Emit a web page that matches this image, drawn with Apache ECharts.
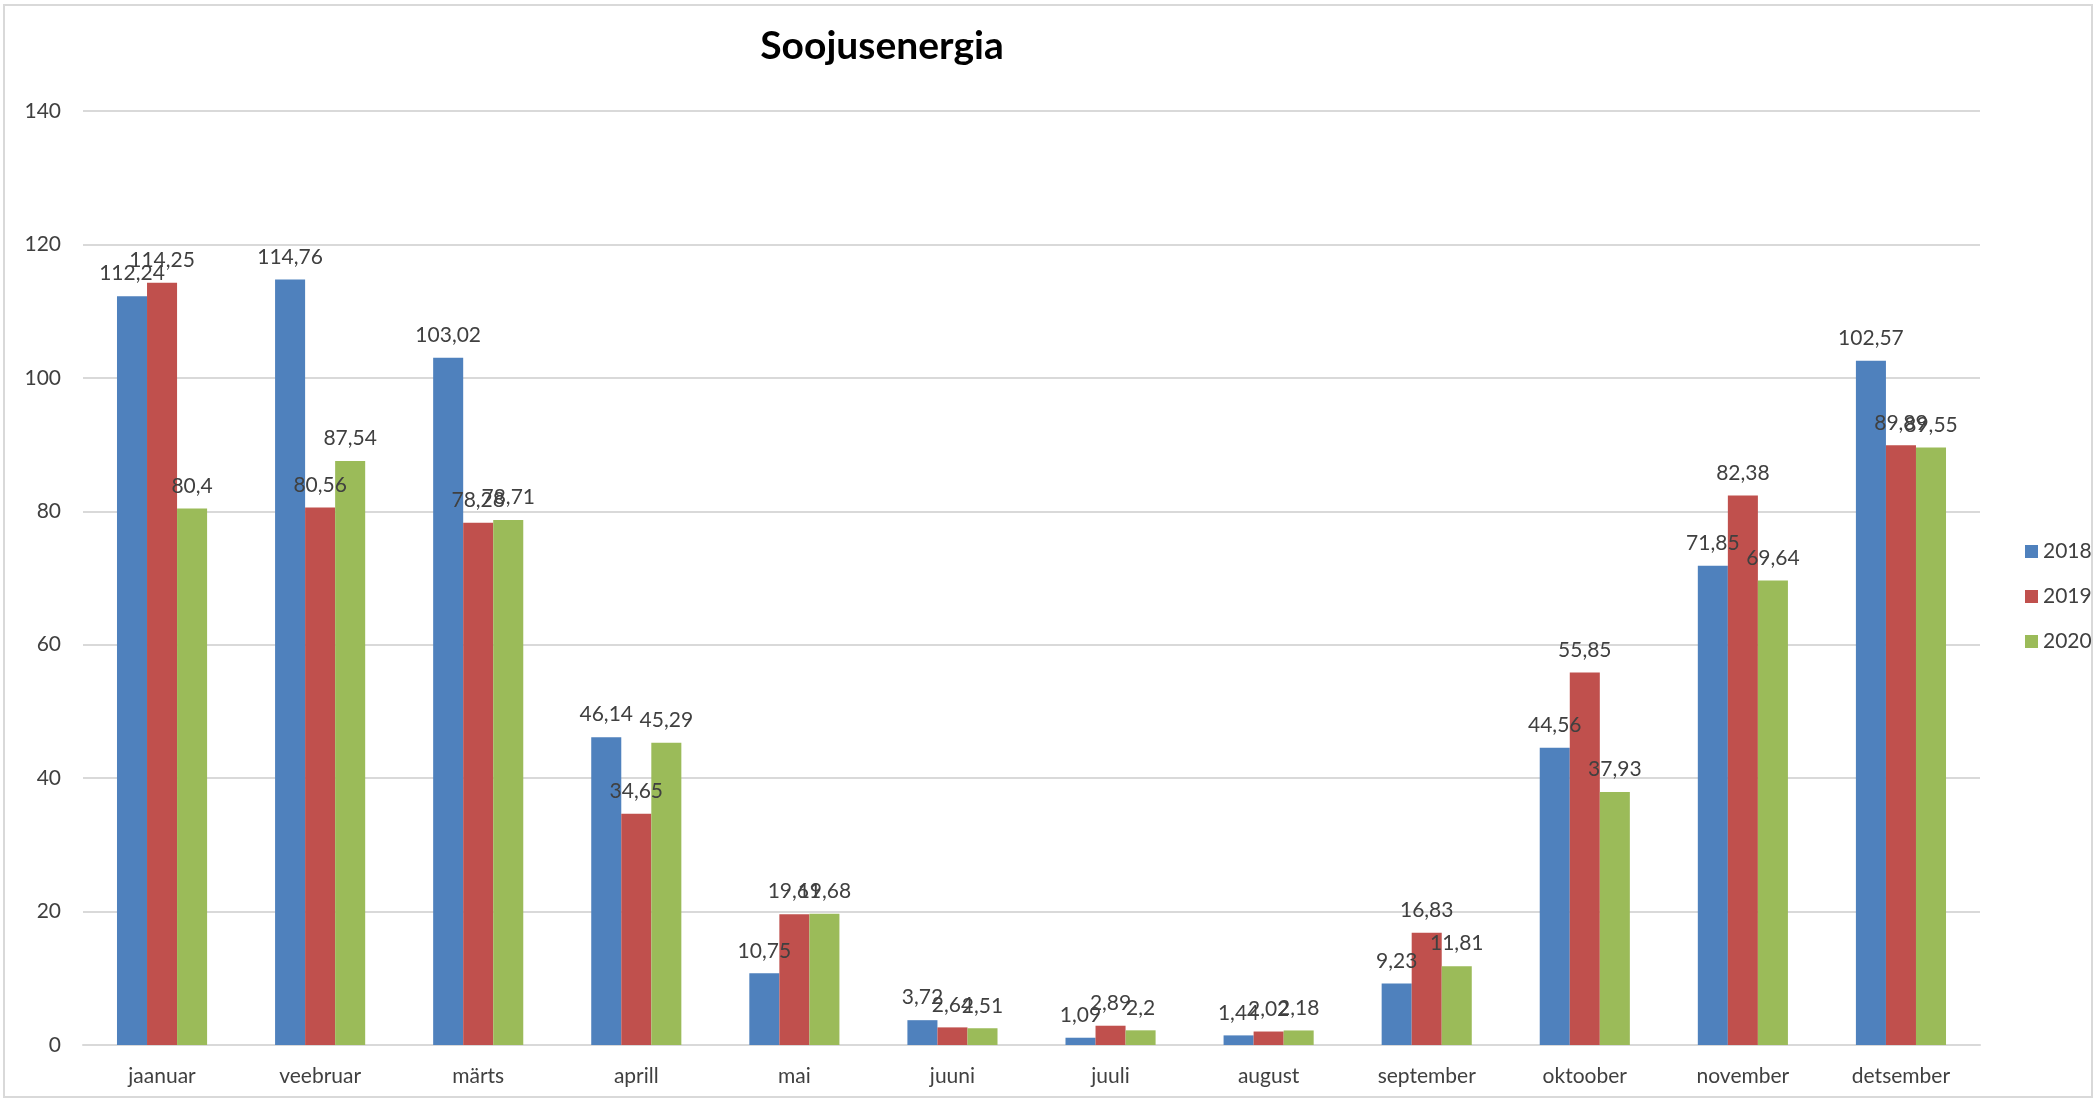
<!DOCTYPE html>
<html>
<head>
<meta charset="utf-8">
<script src="https://cdn.jsdelivr.net/npm/echarts@6/dist/echarts.min.js"></script>
<style>
html,body{margin:0;padding:0;background:#fff;}
#wrap{position:absolute;left:3px;top:4px;width:2090px;height:1094px;border:2px solid #d9d9d9;box-sizing:border-box;}
#chart{position:absolute;left:0;top:0;width:2096px;height:1101px;}
</style>
</head>
<body>
<div id="wrap"></div>
<div id="chart"></div>
<script>
const categories = ["jaanuar","veebruar","märts","aprill","mai","juuni","juuli","august","september","oktoober","november","detsember"];
const seriesNames = ["2018","2019","2020"];
const values2018 = [112.24,114.76,103.02,46.14,10.75,3.72,1.09,1.44,9.23,44.56,71.85,102.57];
const values2019 = [114.25,80.56,78.28,34.65,19.61,2.64,2.89,2.02,16.83,55.85,82.38,89.89];
const values2020 = [80.4,87.54,78.71,45.29,19.68,2.51,2.2,2.18,11.81,37.93,69.64,89.55];
const colors = ["#4F81BD","#C0504D","#9BBB59"];
const FONT = "Lato";

const chart = echarts.init(document.getElementById('chart'));
const allValues = [values2018, values2019, values2020];
chart.setOption({
  animation:false,
  title:{text:"Soojusenergia",left:877,top:22,textAlign:'center',
    textStyle:{fontFamily:FONT,fontWeight:'bold',fontSize:39,color:'#000'}},
  legend:{orient:'vertical',left:2020,top:536,itemWidth:13,itemHeight:13,itemGap:24,
    icon:'rect',textStyle:{fontFamily:FONT,fontSize:21,color:'#404040'},data:seriesNames},
  grid:{left:83,right:116,top:111,bottom:56,containLabel:false},
  xAxis:{type:'category',data:categories,
    axisLine:{lineStyle:{color:'#d9d9d9',width:2}},axisTick:{show:false},
    axisLabel:{fontFamily:FONT,fontSize:21,color:'#404040',margin:21}},
  yAxis:{type:'value',min:0,max:140,interval:20,
    axisLine:{show:false},axisTick:{show:false},
    splitLine:{lineStyle:{color:'#d9d9d9',width:2}},
    axisLabel:{fontFamily:FONT,fontSize:21,color:'#404040',margin:22}},
  series:seriesNames.map((n,i)=>({
    name:n,type:'bar',data:allValues[i],barGap:'0%',barCategoryGap:'43%',
    itemStyle:{color:colors[i]},
    label:{show:true,position:'top',distance:12,fontFamily:FONT,fontSize:21,color:'#404040',
      formatter:p=>String(p.value).replace('.',',')}
  }))
});
</script>
</body>
</html>
